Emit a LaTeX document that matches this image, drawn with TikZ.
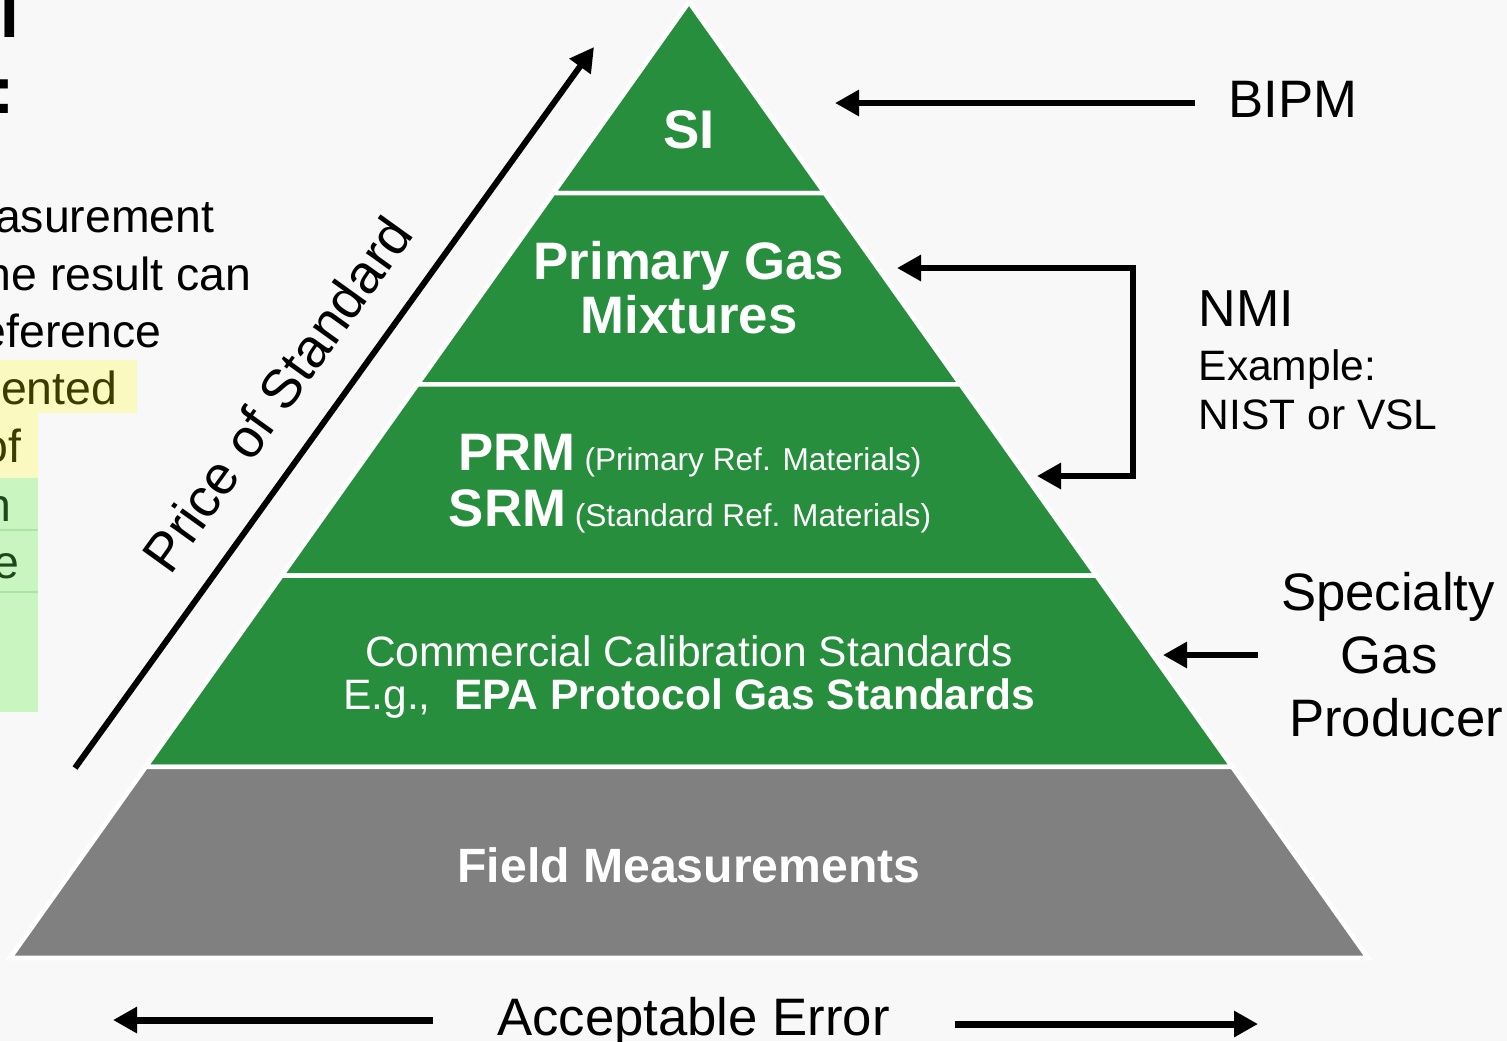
\documentclass[tikz,border=0pt]{standalone}
\usepackage{fontspec}
\setmainfont{Liberation Sans}
\usetikzlibrary{positioning,arrows.meta,calc}

\definecolor{slidebg}{RGB}{248,248,248}
\definecolor{pyrgreen}{RGB}{38,142,60}
\definecolor{pyrgray}{RGB}{128,128,128}
\definecolor{hlyellow}{RGB}{250,250,192}
\definecolor{hlgreen}{RGB}{200,245,192}
\definecolor{hlline}{RGB}{172,228,162}
\definecolor{olivetext}{RGB}{60,60,0}
\definecolor{greentext}{RGB}{28,72,28}

\newcommand\tierbig{\fontsize{15}{16}\bfseries}
\newcommand\tiersmall{\fontsize{9}{10}\selectfont}
\newcommand\tiermid{\fontsize{12.1}{13}\selectfont}
\newcommand\sidebig{\fontsize{15}{16}\selectfont}
\newcommand\sidesmall{\fontsize{12.1}{13}\selectfont}

\tikzset{
  bigarrow/.style={-{Triangle[length=2.4mm, width=2.5mm]}, line width=1.9pt},
  twoheads/.style={{Triangle[length=2.4mm, width=2.5mm]}-{Triangle[length=2.4mm, width=2.5mm]}, line width=1.8pt},
  layer/.style={draw=white, line width=1.3pt},
  tierlabel/.style={text=white, inner sep=0pt, anchor=base},
  sidelabel/.style={inner sep=0pt, anchor=base west, font=\sidebig},
  fragment/.style={inner sep=0pt, anchor=base east, font=\fontsize{13.2}{15}\selectfont}
}

\begin{document}
\begin{tikzpicture}
  \useasboundingbox (0,0) rectangle (15.07,-10.41);
  \fill[slidebg] (0,0) rectangle (15.07,-10.41);

  % highlighted rows of the slide text
  \fill[hlyellow] (0,-3.60) rectangle (1.37,-4.13);
  \fill[hlyellow] (0,-4.13) rectangle (0.38,-4.78);
  \fill[hlgreen] (0,-4.78) rectangle (0.38,-7.12);
  \draw[hlline, line width=0.5pt] (0,-5.30) -- (0.38,-5.30) (0,-5.92) -- (0.38,-5.92);

  % slide text running in from the left
  \node[inner sep=0pt, anchor=base west, font=\fontsize{19}{19}\bfseries] (head1) at (0,-0.37) {I};
  \node[inner sep=0pt, anchor=base west, font=\fontsize{19}{19}\bfseries] (head2) at (-0.08,-1.13) {:};
  \node[fragment] (frag1) at (2.15,-2.32) {asurement};
  \node[fragment] (frag2) at (2.52,-2.90) {he result can};
  \node[fragment] (frag3) at (1.62,-3.47) {eference};
  \node[fragment, text=olivetext] (frag4) at (1.18,-4.04) {ented};
  \node[fragment, text=olivetext] (frag5) at (0.22,-4.62) {of};
  \node[fragment, text=greentext] (frag6) at (0.12,-5.21) {n};
  \node[fragment, text=greentext] (frag7) at (0.20,-5.78) {e};

  % pyramid corners and tier boundaries
  \coordinate (apex) at (6.89,-0.02);
  \coordinate (bl) at (0.10,-9.58);
  \coordinate (br) at (13.68,-9.58);
  \coordinate (l1) at ($(apex)!0.2!(bl)$);
  \coordinate (r1) at ($(apex)!0.2!(br)$);
  \coordinate (l2) at ($(apex)!0.4!(bl)$);
  \coordinate (r2) at ($(apex)!0.4!(br)$);
  \coordinate (l3) at ($(apex)!0.6!(bl)$);
  \coordinate (r3) at ($(apex)!0.6!(br)$);
  \coordinate (l4) at ($(apex)!0.8!(bl)$);
  \coordinate (r4) at ($(apex)!0.8!(br)$);

  \draw[layer, fill=pyrgreen] (apex) -- (r1) -- (l1) -- cycle;
  \draw[layer, fill=pyrgreen] (l1) -- (r1) -- (r2) -- (l2) -- cycle;
  \draw[layer, fill=pyrgreen] (l2) -- (r2) -- (r3) -- (l3) -- cycle;
  \draw[layer, fill=pyrgreen] (l3) -- (r3) -- (r4) -- (l4) -- cycle;
  \draw[layer, fill=pyrgray] (l4) -- (r4) -- (br) -- (bl) -- cycle;

  % tier labels
  \node[tierlabel, font=\fontsize{15.5}{16}\bfseries] (si) at (6.89,-1.48) {SI};
  \node[tierlabel, font=\tierbig] (pgm1) at (6.89,-2.79) {Primary Gas};
  \node[tierlabel, font=\tierbig] (pgm2) at (6.89,-3.33) {Mixtures};
  \node[tierlabel, font=\tiersmall] (prm) at (6.90,-4.70) {{\tierbig PRM} (Primary Ref. Materials)};
  \node[tierlabel, font=\tiersmall] (srm) at (6.90,-5.26) {{\tierbig SRM} (Standard Ref. Materials)};
  \node[tierlabel, font=\tiermid] (ccs1) at (6.89,-6.66) {Commercial Calibration Standards};
  \node[tierlabel, font=\tiermid] (ccs2) at (6.89,-7.09) {E.g.,\ \ \textbf{EPA Protocol Gas Standards}};
  \node[tierlabel, font=\fontsize{13.7}{15}\bfseries] (field) at (6.89,-8.82) {Field Measurements};

  % who supplies each tier
  \node[sidelabel] (bipm) at (12.28,-1.17) {BIPM};
  \node[sidelabel, font=\fontsize{14.8}{16}\selectfont] (nmi) at (11.98,-3.26) {NMI};
  \node[sidelabel, font=\sidesmall] (nmiex) at (11.98,-3.80) {Example:};
  \node[sidelabel, font=\sidesmall] (nmilab) at (11.98,-4.29) {NIST or VSL};
  \node[sidelabel, anchor=base] (spec1) at (13.88,-6.10) {Specialty};
  \node[sidelabel, anchor=base] (spec2) at (13.89,-6.73) {Gas};
  \node[sidelabel, anchor=base] (spec3) at (13.96,-7.36) {Producer};

  \coordinate (bipmTail) at (11.95,-1.03);
  \coordinate (bipmTip) at (8.35,-1.03);
  \draw[bigarrow] (bipmTail) -- (bipmTip);

  \coordinate (nmiTop) at (8.97,-2.68);
  \coordinate (nmiSpine) at (11.33,-2.68);
  \coordinate (nmiBot) at (10.37,-4.76);
  \draw[twoheads] (nmiTop) -- (nmiSpine) |- (nmiBot);

  \coordinate (specTail) at (12.58,-6.55);
  \coordinate (specTip) at (11.63,-6.55);
  \draw[bigarrow] (specTail) -- (specTip);

  % price axis
  \coordinate (priceTail) at (0.75,-7.68);
  \coordinate (priceTip) at (5.94,-0.47);
  \draw[bigarrow, line width=1.7pt] (priceTail) -- (priceTip);
  \node[rotate=54.3, inner sep=0pt, font=\fontsize{15.5}{16}\selectfont] (price) at (2.77,-3.94) {Price of Standard};

  % error axis
  \node[inner sep=0pt, anchor=base, font=\sidebig] (error) at (6.935,-10.35) {Acceptable Error};
  \coordinate (errLtail) at (4.33,-10.20);
  \coordinate (errLtip) at (1.13,-10.20);
  \coordinate (errRtail) at (9.55,-10.24);
  \coordinate (errRtip) at (12.58,-10.24);
  \draw[bigarrow, line width=2pt] (errLtail) -- (errLtip);
  \draw[bigarrow, line width=2pt] (errRtail) -- (errRtip);
\end{tikzpicture}
\end{document}
